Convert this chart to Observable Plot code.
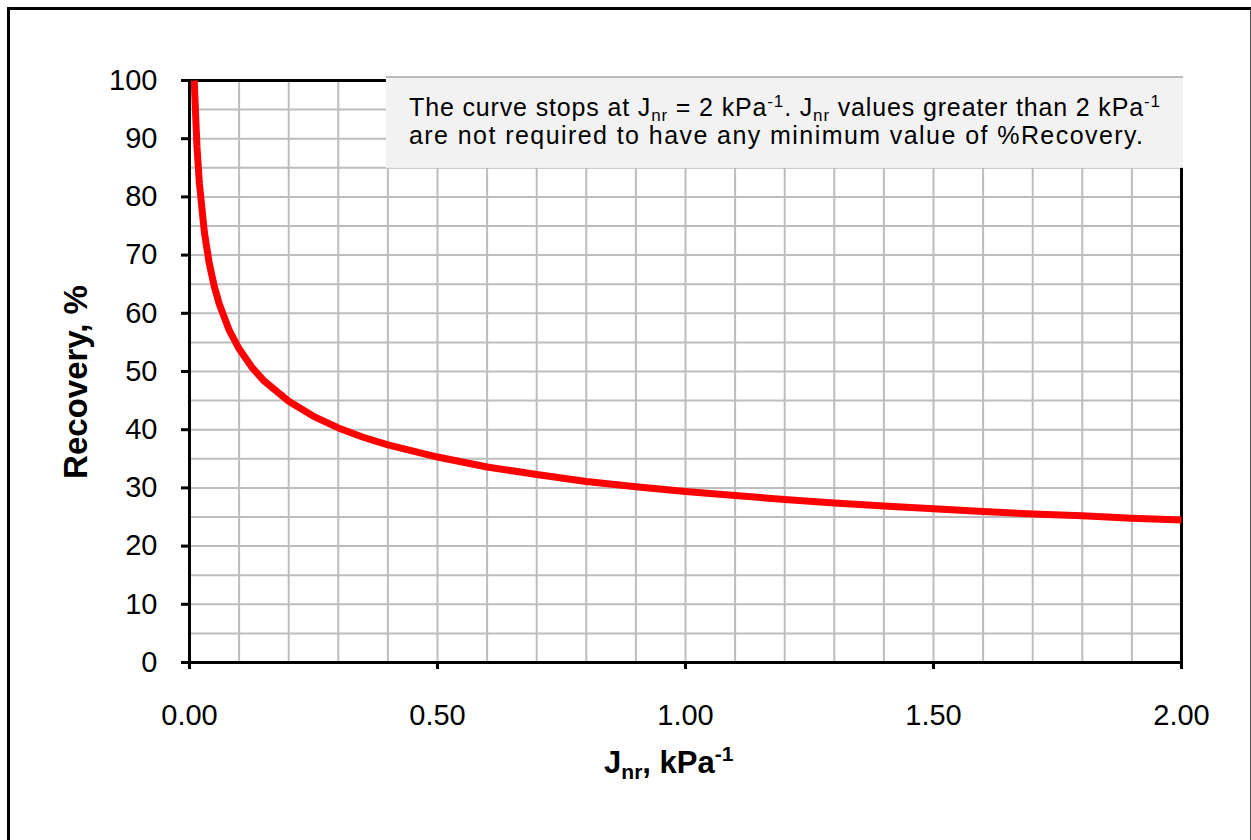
<!DOCTYPE html>
<html><head><meta charset="utf-8">
<script src="https://cdn.jsdelivr.net/npm/d3@7"></script>
<script src="https://cdn.jsdelivr.net/npm/@observablehq/plot@0.6"></script>
<style>
body{margin:0;background:#fff;font-family:Arial,"Liberation Sans",sans-serif;}
#wrap{position:relative;width:1251px;height:840px;overflow:hidden;}
#border{position:absolute;left:7px;top:7px;width:1240px;height:850px;border-left:3px solid #000;border-top:3px solid #000;border-right:2px solid #555;pointer-events:none;}
</style></head>
<body><div id="wrap"><div id="chart"></div><div id="border"></div></div>
<script>
// Curve: Jnr (kPa^-1) vs minimum % Recovery
const jnr = [0.0095, 0.015, 0.02, 0.03, 0.04, 0.05, 0.06, 0.08, 0.10, 0.125, 0.15, 0.20, 0.25, 0.30, 0.35, 0.40, 0.50, 0.60, 0.70, 0.80, 0.90, 1.00, 1.10, 1.20, 1.30, 1.40, 1.50, 1.60, 1.70, 1.80, 1.90, 2.00];
const recovery = [100, 88.7, 82.3, 73.9, 68.5, 64.6, 61.6, 57.1, 53.9, 50.8, 48.4, 44.9, 42.3, 40.3, 38.7, 37.4, 35.3, 33.6, 32.3, 31.1, 30.2, 29.4, 28.7, 28.0, 27.4, 26.9, 26.4, 25.95, 25.5, 25.2, 24.8, 24.5];

const xTicks = [0, 0.5, 1.0, 1.5, 2.0];
const xGrid = [0, 0.1, 0.2, 0.3, 0.4, 0.5, 0.6, 0.7, 0.8, 0.9, 1.0, 1.1, 1.2, 1.3, 1.4, 1.5, 1.6, 1.7, 1.8, 1.9, 2.0];
const yTicks = [0, 10, 20, 30, 40, 50, 60, 70, 80, 90, 100];
const yGrid = [0, 5, 10, 15, 20, 25, 30, 35, 40, 45, 50, 55, 60, 65, 70, 75, 80, 85, 90, 95, 100];

// Note box extent (data units)
const noteX = [0.397, 2.004];
const noteY = [84.9, 100.5];

const data = jnr.map((x, i) => ({x, y: recovery[i]}));
const noteBox = [{x1: noteX[0], x2: noteX[1], y1: noteY[0], y2: noteY[1]}];

const font = "Arial, 'Liberation Sans', sans-serif";
const plot = Plot.plot({
  width: 1251, height: 840,
  marginLeft: 189, marginRight: 70, marginTop: 80, marginBottom: 178,
  style: {fontFamily: font, fontSize: "29px", color: "#000", background: "transparent", overflow: "visible"},
  x: {domain: [0, 2]},
  y: {domain: [0, 100]},
  marks: [
    Plot.gridX(xGrid, {stroke: "#bdbdbd", strokeOpacity: 1, strokeWidth: 2}),
    Plot.gridY(yGrid, {stroke: "#bdbdbd", strokeOpacity: 1, strokeWidth: 2}),
    Plot.frame({stroke: "#000", strokeWidth: 3}),
    Plot.axisX(xTicks, {tickSize: 7, tickPadding: 35, strokeWidth: 3, tickFormat: d => d.toFixed(2), label: null, fontSize: 29}),
    Plot.axisY(yTicks, {tickSize: 8, tickPadding: 24, strokeWidth: 3, label: null, fontSize: 29}),
    Plot.line(data, {x: "x", y: "y", stroke: "#ff0000", strokeWidth: 7, curve: "linear", strokeLinejoin: "round", strokeLinecap: "butt"}),
    Plot.rect(noteBox, {x1: "x1", x2: "x2", y1: "y1", y2: "y2", fill: "#f2f2f2", clip: false})
  ]
});
document.getElementById("chart").appendChild(plot);

const svg = d3.select(plot);
const xs = plot.scale("x"), ys = plot.scale("y");
svg.append("line")
  .attr("x1", xs.apply(noteX[0])).attr("x2", xs.apply(noteX[1]))
  .attr("y1", ys.apply(noteY[1])).attr("y2", ys.apply(noteY[1]))
  .attr("stroke", "#a6a6a6").attr("stroke-width", 1.5);

function rich(parent, parts, size) {
  parts.forEach(p => {
    const t = parent.append("tspan").text(p.t);
    if (p.sub) t.attr("font-size", size * 0.68).attr("dy", size * 0.2);
    else if (p.sup) t.attr("font-size", size * 0.68).attr("dy", -size * 0.38);
    else if (p.back) t.attr("dy", p.back);
  });
}

const ns = 25;
const l1 = svg.append("text").attr("x", 409).attr("y", 116).attr("text-anchor", "start")
  .attr("font-family", font).attr("font-size", ns)
  .attr("textLength", 751).attr("lengthAdjust", "spacing").attr("fill", "#000");
rich(l1, [
  {t: "The curve stops at J"}, {t: "nr", sub: true}, {t: " = 2 kPa", back: -ns * 0.2}, {t: "-1", sup: true},
  {t: ". J", back: ns * 0.38}, {t: "nr", sub: true}, {t: " values greater than 2 kPa", back: -ns * 0.2}, {t: "-1", sup: true}
], ns);
svg.append("text").attr("x", 409).attr("y", 144).attr("text-anchor", "start")
  .attr("font-family", font).attr("font-size", ns)
  .attr("textLength", 734).attr("lengthAdjust", "spacing").attr("fill", "#000")
  .text("are not required to have any minimum value of %Recovery.");

// axis titles
const ts = 31;
const xt = svg.append("text").attr("x", 604).attr("y", 773).attr("text-anchor", "start")
  .attr("font-family", font).attr("font-size", ts)
  .attr("font-weight", "bold").attr("fill", "#000");
rich(xt, [{t: "J"}, {t: "nr", sub: true}, {t: ", kPa", back: -ts * 0.2}, {t: "-1", sup: true}], ts);

svg.append("text").attr("transform", "translate(75,382) rotate(-90)")
  .attr("text-anchor", "middle").attr("dominant-baseline", "central")
  .attr("font-family", font).attr("font-size", 33).attr("font-weight", "bold").attr("fill", "#000")
  .text("Recovery, %");
</script></body></html>
